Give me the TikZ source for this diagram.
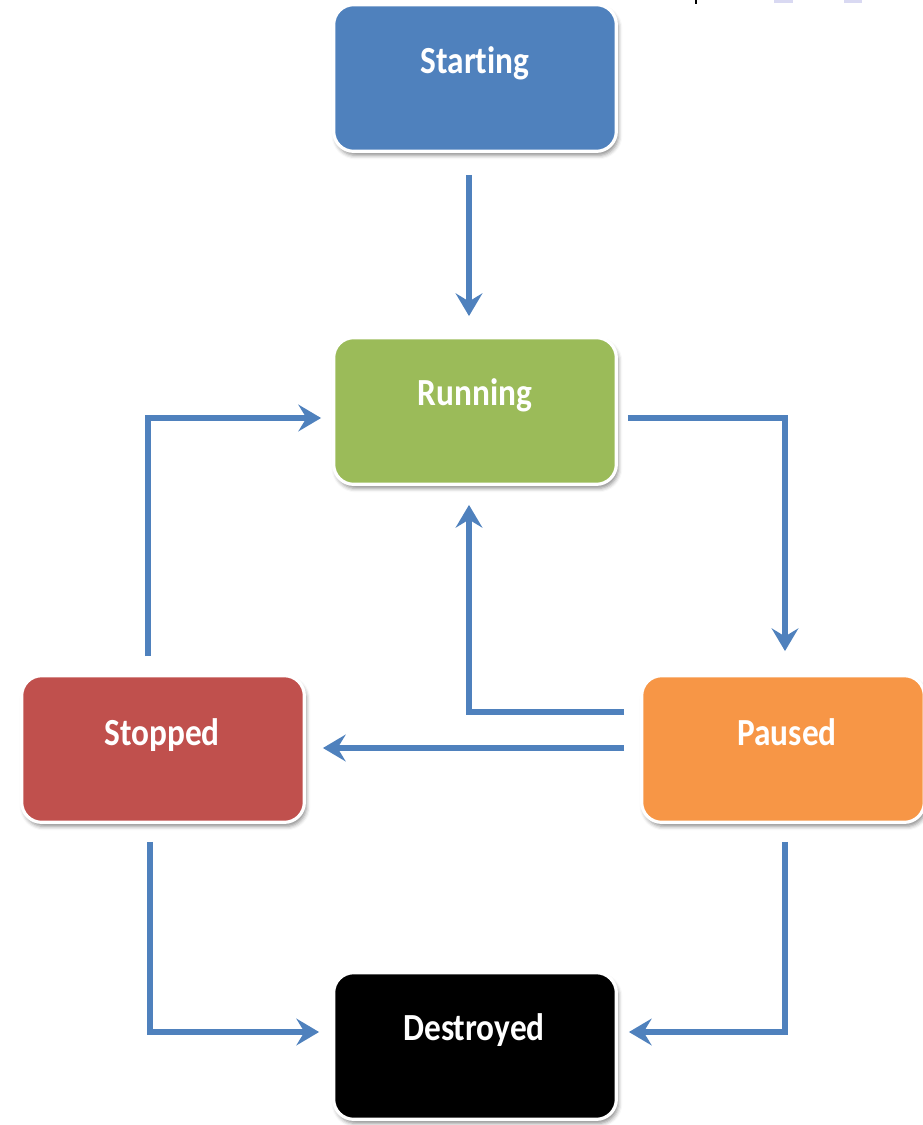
\documentclass[tikz,border=0pt]{standalone}
\usepackage{fontspec}
\setmainfont{Carlito}[Ligatures={NoCommon}]
\usetikzlibrary{arrows.meta,shadows.blur,calc}
\definecolor{arrowblue}{HTML}{4F81BD}
\definecolor{cstart}{HTML}{4F81BD}
\definecolor{crun}{HTML}{9BBB59}
\definecolor{cstop}{HTML}{C0504D}
\definecolor{cpause}{HTML}{F79646}
\definecolor{lav}{HTML}{D9D9F2}
\tikzset{
  statebox/.style={rectangle, rounded corners=15pt, draw=white, line width=2.4pt,
    minimum width=212pt, minimum height=110pt, inner sep=0pt,
    blur shadow={shadow xshift=1.5pt, shadow yshift=-3pt, shadow blur radius=3pt, shadow opacity=45}},
  statelbl/.style={anchor=base, text=white, inner sep=0pt,
    font=\fontsize{25}{30}\selectfont\bfseries},
  flow/.style={draw=arrowblue, line width=5pt,
    -{Stealth[length=17pt,width=20pt,inset=6pt]}}
}
\newcommand{\tall}[1]{\scalebox{1}[1.15]{#1}}
\begin{document}
\begin{tikzpicture}[x=0.75pt,y=-0.75pt]
\useasboundingbox (0,0) rectangle (923,1125);
% small artifacts at top
\fill[black] (695,0) rectangle (697,4);
\fill[lav] (774,0) rectangle (793,3);
\fill[lav] (844,0) rectangle (862,3);
% boxes
\node[statebox, fill=cstart] (start) at (475,78) {};
\node[statebox, fill=crun]   (run)   at (475,411) {};
\node[statebox, fill=cstop]  (stop)  at (163,749) {};
\node[statebox, fill=cpause] (pause) at (783,749) {};
\node[statebox, fill=black]  (dest)  at (475,1046) {};
% labels
\node[statelbl] (startT) at (475,73)  {\tall{Starting}};
\node[statelbl] (runT)   at (475,405) {\tall{Running}};
\node[statelbl] (stopT)  at (162,745) {\tall{Stopped}};
\node[statelbl] (pauseT) at (787,745) {\tall{Paused}};
\node[statelbl] (destT)  at (474,1040) {\tall{Destroyed}};
% connectors
\draw[flow] ($(start.south)+(-6,22)$) -- ($(run.north)+(-6,-20)$);
\draw[flow] ($(run.east)+(10,7)$) -| ($(pause.north)+(2,-23)$);
\draw[flow] ($(pause.west)+(-16,-37)$) -| ($(run.south)+(-6,19)$);
\draw[flow] ($(pause.west)+(-16,-1)$) -- ($(stop.east)+(17,-1)$);
\draw[flow] ($(stop.north)+(-15,-18)$) |- ($(run.west)+(-11,7)$);
\draw[flow] ($(stop.south)+(-13,18)$) |- ($(dest.west)+(-13,-14)$);
\draw[flow] ($(pause.south)+(2,18)$) |- ($(dest.east)+(11,-14)$);
\end{tikzpicture}
\end{document}
